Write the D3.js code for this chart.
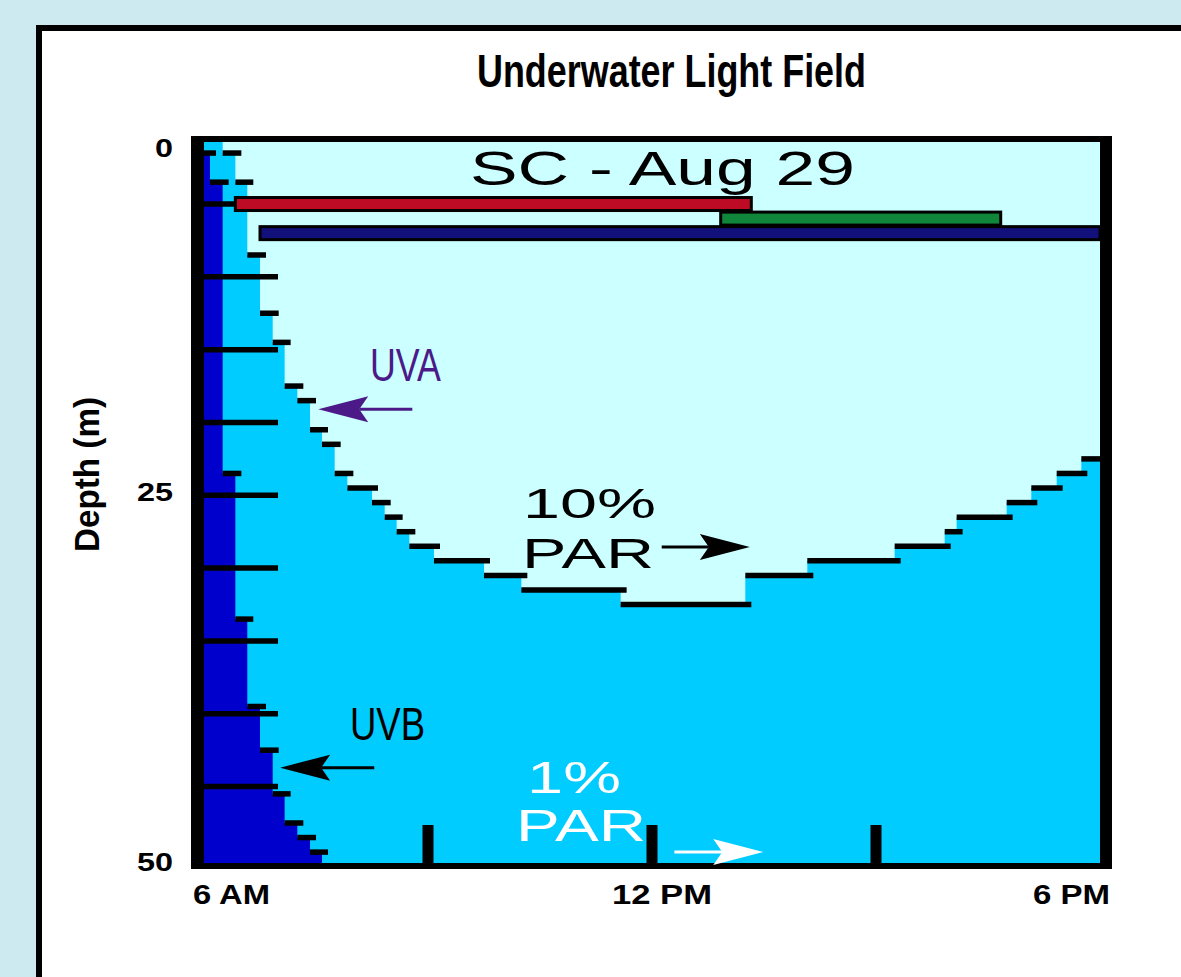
<!DOCTYPE html>
<html><head><meta charset="utf-8">
<script src="https://cdn.jsdelivr.net/npm/d3@7"></script>
<style>html,body{margin:0;padding:0;background:#cdeaf0;overflow:hidden}svg{display:block}</style>
</head><body>
<svg id="c" width="1181" height="977"></svg>
<script>
// ---- data ----
// 10% PAR depth (step starts, hours of day) and depth (m)
const parTime  = [6.00, 6.25, 6.42, 6.58, 6.75, 6.92, 7.08, 7.25, 7.42, 7.58, 7.75, 7.92, 8.25, 8.42, 8.58, 8.75, 9.08, 9.75, 10.25, 11.58, 13.25, 14.08, 15.25, 15.92, 16.08, 16.75, 17.08, 17.42, 17.75];
const parDepth = [0,    1.5,  3.5,  8.5,  12.5, 14.5, 17.5, 18.5, 20.5, 21.5, 23.5, 24.5, 25.5, 26.5, 27.5, 28.5, 29.5, 30.5, 31.5,  32.5,  30.5,  29.5,  28.5,  27.5,  26.5,  25.5,  24.5,  23.5,  22.5];
// UVB profile: depth where step starts and edge (in hours units of x axis)
const uvbDepth = [0,    1.5,  3.5,  23.5, 33.5, 39.5, 42.5, 45.5, 47.5, 48.5, 49.5];
const uvbEdge  = [6.00, 6.08, 6.25, 6.42, 6.58, 6.75, 6.92, 7.08, 7.25, 7.42, 7.58];
// sampling bars
const barStart = [6.42, 12.92, 6.75];
const barEnd   = [13.33, 16.67, 18.0];
const barDepth = [5, 6, 7];
const barColor = ["#bd0b25", "#10863a", "#12107a"];
// axes
const depthTicks  = [5, 10, 15, 20, 25, 30, 35, 40, 45];
const depthLabels = [0, 25, 50];
const hourTicks   = [9, 12, 15];
const hourLabels  = ["6 AM", "12 PM", "6 PM"];
// arrows (hours / depth)
const arrowFrom  = [8.79, 8.28, 12.13, 12.30];
const arrowTo    = [7.53, 7.02, 13.31, 13.49];
const arrowDepth = [19.1, 43.7, 28.55, 49.5];
const arrowColor = ["#4b1a88", "#000000", "#000000", "#ffffff"];

// ---- layout ----
const svg = d3.select("#c");
const P = {left: 204, right: 1100, top: 142, bottom: 863};
const x = d3.scaleLinear().domain([6, 18]).range([P.left, P.right]);
const y = d3.scaleLinear().domain([0, 50]).range([131.2, 859.4]);
const FONT = "'Liberation Sans', Arial, Helvetica, sans-serif";
const NARROW = "'Liberation Sans Narrow', 'Liberation Sans', Arial, sans-serif";

svg.append("rect").attr("width", 1181).attr("height", 977).attr("fill", "#cdeaf0");
svg.append("rect").attr("x", 39).attr("y", 28).attr("width", 1200).attr("height", 1000)
  .attr("fill", "#fff").attr("stroke", "#000").attr("stroke-width", 6);

const defs = svg.append("defs");
defs.append("clipPath").attr("id", "clip").append("rect")
  .attr("x", P.left).attr("y", P.top).attr("width", P.right - P.left).attr("height", P.bottom - P.top);

const g = svg.append("g").attr("clip-path", "url(#clip)");
g.append("rect").attr("x", P.left).attr("y", P.top).attr("width", P.right - P.left)
  .attr("height", P.bottom - P.top).attr("fill", "#ccffff");

// PAR area
const parPts = parTime.map((t, i) => ({t, d: parDepth[i]}));
parPts.push({t: 18, d: parDepth[parDepth.length - 1]});
g.append("path").datum(parPts)
  .attr("d", d3.area().x(p => x(p.t)).y0(P.bottom + 5).y1(p => y(p.d)).curve(d3.curveStepAfter))
  .attr("fill", "#00ccff");

// UVB area
const uvbPts = uvbDepth.map((d, i) => ({d, e: uvbEdge[i]}));
uvbPts.push({d: 55, e: uvbEdge[uvbEdge.length - 1]});
g.append("path").datum(uvbPts)
  .attr("d", d3.area().y(p => y(p.d)).x0(x(6) - 5).x1(p => x(p.e)).curve(d3.curveStepBefore))
  .attr("fill", "#0000cc");

const OVER = 6, DASH = 5.5;
// PAR dashes
g.selectAll("line.par").data(parPts.slice(0, -1)).join("line").attr("class", "par")
  .attr("x1", p => x(p.t))
  .attr("x2", (p, i) => x(parPts[i + 1].t) + OVER)
  .attr("y1", p => y(p.d)).attr("y2", p => y(p.d))
  .attr("stroke", "#000").attr("stroke-width", DASH);
// UVB dashes
g.selectAll("line.uvb").data(uvbPts.slice(1, -1)).join("line").attr("class", "uvb")
  .attr("x1", (p, i) => x(uvbPts[i].e))
  .attr("x2", p => x(p.e) + OVER)
  .attr("y1", p => y(p.d)).attr("y2", p => y(p.d))
  .attr("stroke", "#000").attr("stroke-width", DASH);
// depth ticks
g.selectAll("line.dt").data(depthTicks).join("line").attr("class", "dt")
  .attr("x1", x(6)).attr("x2", x(6) + 74)
  .attr("y1", d => y(d)).attr("y2", d => y(d))
  .attr("stroke", "#000").attr("stroke-width", DASH);

// bars
svg.selectAll("rect.bar").data(barStart).join("rect").attr("class", "bar")
  .attr("x", (s) => x(s))
  .attr("width", (s, i) => x(barEnd[i]) - x(s))
  .attr("y", (s, i) => y(barDepth[i]) - 6.5)
  .attr("height", 13)
  .attr("fill", (s, i) => barColor[i])
  .attr("stroke", "#000").attr("stroke-width", 3);

// hour ticks
svg.selectAll("rect.ht").data(hourTicks).join("rect").attr("class", "ht")
  .attr("x", h => x(h) - 5.5).attr("width", 11)
  .attr("y", P.bottom - 38).attr("height", 38).attr("fill", "#000");

// frame
svg.append("rect").attr("x", 191).attr("y", 136).attr("width", P.left - 191).attr("height", 733).attr("fill", "#000");
svg.append("rect").attr("x", 191).attr("y", 136).attr("width", 921).attr("height", P.top - 136).attr("fill", "#000");
svg.append("rect").attr("x", P.right).attr("y", 136).attr("width", 12).attr("height", 733).attr("fill", "#000");
svg.append("rect").attr("x", 191).attr("y", P.bottom).attr("width", 921).attr("height", 6).attr("fill", "#000");

// arrows
arrowFrom.forEach((f, i) => {
  const x1 = x(f), x2 = x(arrowTo[i]), yy = y(arrowDepth[i]);
  const dir = x2 > x1 ? 1 : -1;
  const L = 50, Wd = 13, N = 9;
  svg.append("line").attr("x1", x1).attr("x2", x2 - dir * (L - N)).attr("y1", yy).attr("y2", yy)
    .attr("stroke", arrowColor[i]).attr("stroke-width", 3);
  svg.append("path")
    .attr("d", `M${x2},${yy}L${x2 - dir * L},${yy - Wd}L${x2 - dir * (L - N)},${yy}L${x2 - dir * L},${yy + Wd}Z`)
    .attr("fill", arrowColor[i]);
});

// texts
function txt(s, X, Y, size, len, opts = {}) {
  const t = svg.append("text").text(s).attr("x", X).attr("y", Y)
    .attr("font-family", opts.family || FONT).attr("font-size", size)
    .attr("font-weight", opts.bold ? "bold" : "normal")
    .attr("fill", opts.fill || "#000")
    .attr("text-anchor", opts.anchor || "start");
  if (len) t.attr("textLength", len).attr("lengthAdjust", "spacingAndGlyphs");
  if (opts.transform) t.attr("transform", opts.transform);
  return t;
}
txt("Underwater Light Field", 477, 87, 47, 389, {bold: true, family: NARROW});
txt("SC - Aug 29", 470, 185, 48, 385);
txt("10%", 523, 518, 43, 133);
txt("PAR", 522, 568, 43, 132);
txt("UVA", 370, 381, 47, 71, {fill: "#4b1a88", family: NARROW});
txt("UVB", 350, 740, 47, 75, {family: NARROW});
txt("1%", 527, 793, 45, 94, {fill: "#fff"});
txt("PAR", 516, 841, 45, 130, {fill: "#fff"});

// depth labels
const dlBase = [157, 501, 871];
depthLabels.forEach((d, i) => {
  txt(String(d), 173, dlBase[i], 26, String(d).length * 18, {bold: true, anchor: "end"});
});
// hour labels
const hlX = [193, 612, 1033], hlW = [77, 100, 77];
hourLabels.forEach((s, i) => txt(s, hlX[i], 904, 27, hlW[i], {bold: true}));

txt("Depth (m)", 0, 0, 35, 155, {bold: true, transform: "translate(99,552) rotate(-90)"});
</script>
</body></html>
